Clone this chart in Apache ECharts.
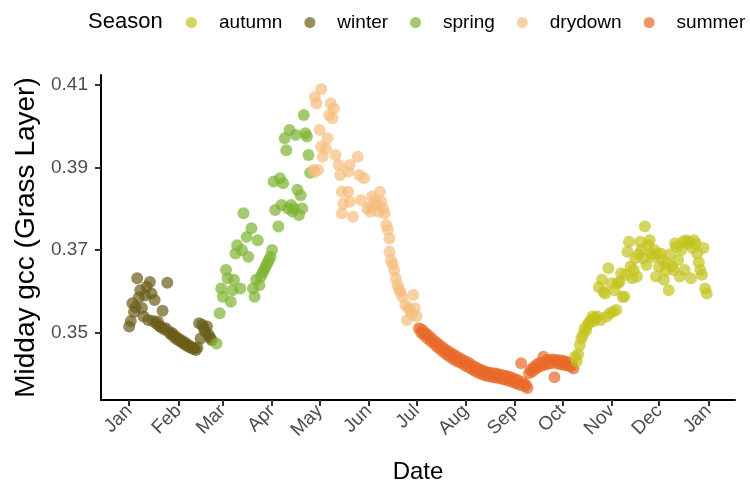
<!DOCTYPE html>
<html><head><meta charset="utf-8">
<script src="https://cdn.jsdelivr.net/npm/echarts@6/dist/echarts.min.js"></script>
<style>html,body{margin:0;padding:0;background:#fff}#c{width:750px;height:485px}</style>
</head><body><div id="c"></div>
<script>
// Tick labels (month starts, day-of-year)
const monthLabels = ['Jan','Feb','Mar','Apr','May','Jun','Jul','Aug','Sep','Oct','Nov','Dec','Jan'];
const monthStarts = [0,31,59,90,120,151,181,212,243,273,304,334,365];
const yTicks = [0.35,0.37,0.39,0.41];
const seasons = ['autumn','winter','spring','drydown','summer'];

// [day of year, midday gcc]
const winter = [
[0,0.3515],[1,0.3528],[2,0.3571],[3,0.3550],[4,0.3562],[5,0.3632],[6,0.3585],[7,0.3603],[8,0.3560],[9,0.3539],
[10,0.3590],[11,0.3611],[12,0.3531],[13,0.3623],[14,0.3595],[15,0.3528],[16,0.3579],[17,0.3522],[18,0.3527],[19,0.3516],
[20,0.3514],[21,0.3553],[22,0.3508],[23,0.3511],[24,0.3621],[25,0.3502],[26,0.3497],[27,0.3499],[28,0.3490],[29,0.3492],
[30,0.3484],[31,0.3486],[32,0.3479],[33,0.3481],[34,0.3474],[35,0.3476],[36,0.3469],[37,0.3471],[38,0.3465],[39,0.3466],
[40,0.3461],[41,0.3462],[42,0.3458],[43,0.3464],[44,0.3523],[45,0.3486],[46,0.3519],[47,0.3510],[48,0.3502],[49,0.3515],
[50,0.3495],[51,0.3488],[52,0.3482]
];
const spring = [
[55,0.3474],[57,0.3547],[58,0.3607],[59,0.3587],[61,0.3652],[62,0.3632],[64,0.3575],[65,0.3603],[66,0.3628],[67,0.3692],
[68,0.3712],[70,0.3607],[71,0.3700],[72,0.3789],[74,0.3732],[75,0.3684],[77,0.3753],[78,0.3607],[79,0.3587],[80,0.3628],
[81,0.3724],[82,0.3615],[83,0.3636],[84,0.3645],[85,0.3652],[86,0.3660],[87,0.3668],[88,0.3676],[89,0.3684],[90,0.3700],
[91,0.3866],[92,0.3797],[94,0.3757],[95,0.3874],[96,0.3809],[97,0.3862],[98,0.3971],[99,0.3942],[100,0.3801],[101,0.3991],
[102,0.3809],[103,0.3793],[104,0.3801],[105,0.3979],[106,0.3846],[107,0.3785],[108,0.3833],[109,0.3801],[110,0.4027],[111,0.3983],
[112,0.3975],[113,0.3930],[114,0.3887]
];
const drydown = [
[116,0.3894],[117,0.3890],[117,0.4071],[118,0.4055],[119,0.3894],[120,0.3991],[121,0.4090],[121,0.3950],[122,0.3926],[124,0.3946],
[125,0.3971],[126,0.4027],[127,0.4055],[128,0.4019],[129,0.4043],[130,0.3930],[132,0.3906],[133,0.3882],[134,0.3841],[134,0.3789],
[135,0.3813],[138,0.3890],[138,0.3841],[139,0.3906],[139,0.3817],[141,0.3781],[144,0.3926],[145,0.3882],[146,0.3821],[148,0.3874],
[150,0.3800],[152,0.3805],[152,0.3793],[153,0.3830],[155,0.3821],[156,0.3810],[157,0.3793],[158,0.3841],[159,0.3817],[160,0.3800],
[161,0.3789],[162,0.3761],[163,0.3749],[164,0.3728],[164,0.3696],[165,0.3676],[166,0.3665],[167,0.3652],[168,0.3632],[169,0.3616],
[170,0.3605],[171,0.3599],[172,0.3587],[174,0.3567],[175,0.3531],[176,0.3560],[177,0.3555],[178,0.3545],[179,0.3591],[180,0.3559],
[181,0.3540],[182,0.3511]
];
const summer = [
[183,0.3510],[184,0.3500],[185,0.3506],[186,0.3494],[187,0.3498],[188,0.3486],[189,0.3492],[190,0.3480],[191,0.3485],[192,0.3473],
[193,0.3478],[194,0.3466],[195,0.3472],[196,0.3460],[197,0.3466],[198,0.3453],[199,0.3460],[200,0.3447],[201,0.3455],[202,0.3442],
[203,0.3450],[204,0.3437],[205,0.3446],[206,0.3432],[207,0.3441],[208,0.3429],[209,0.3436],[210,0.3425],[211,0.3432],[212,0.3420],
[213,0.3429],[214,0.3416],[215,0.3424],[216,0.3412],[217,0.3419],[218,0.3407],[219,0.3415],[220,0.3403],[221,0.3411],[222,0.3400],
[223,0.3408],[224,0.3397],[225,0.3405],[226,0.3395],[227,0.3403],[228,0.3393],[229,0.3402],[230,0.3392],[231,0.3401],[232,0.3391],
[233,0.3399],[234,0.3389],[235,0.3397],[236,0.3387],[237,0.3396],[238,0.3385],[239,0.3394],[240,0.3383],[241,0.3391],[242,0.3380],
[243,0.3388],[244,0.3377],[245,0.3385],[246,0.3374],[247,0.3426],[248,0.3380],[249,0.3370],[250,0.3374],[251,0.3366],[252,0.3402],
[253,0.3410],[254,0.3406],[255,0.3417],[256,0.3412],[257,0.3423],[258,0.3417],[259,0.3427],[260,0.3420],[261,0.3442],[262,0.3423],
[263,0.3433],[264,0.3425],[265,0.3434],[266,0.3426],[267,0.3435],[268,0.3392],[269,0.3434],[270,0.3425],[271,0.3433],[272,0.3424],
[273,0.3432],[274,0.3422],[275,0.3430],[276,0.3421],[277,0.3428],[278,0.3418],[279,0.3422],[280,0.3413]
];
const autumn = [
[281,0.3442],[282,0.3430],[283,0.3448],[284,0.3470],[285,0.3486],[286,0.3495],[287,0.3510],[288,0.3505],[289,0.3519],[290,0.3525],
[291,0.3531],[292,0.3539],[293,0.3528],[294,0.3535],[295,0.3539],[296,0.3610],[297,0.3531],[298,0.3628],[299,0.3599],[300,0.3595],
[301,0.3539],[302,0.3656],[303,0.3547],[304,0.3620],[305,0.3551],[306,0.3603],[307,0.3555],[308,0.3620],[309,0.3623],[310,0.3644],
[311,0.3587],[312,0.3587],[313,0.3640],[314,0.3696],[315,0.3720],[316,0.3660],[317,0.3632],[318,0.3652],[319,0.3680],[320,0.3636],
[321,0.3690],[322,0.3720],[323,0.3700],[324,0.3680],[325,0.3757],[326,0.3664],[327,0.3712],[328,0.3724],[329,0.3690],[330,0.3684],
[331,0.3700],[332,0.3636],[333,0.3690],[334,0.3660],[335,0.3692],[336,0.3676],[337,0.3628],[338,0.3650],[339,0.3668],[340,0.3603],
[341,0.3690],[342,0.3660],[343,0.3652],[344,0.3716],[345,0.3708],[346,0.3676],[347,0.3636],[348,0.3700],[349,0.3720],[350,0.3652],
[351,0.3724],[352,0.3716],[353,0.3720],[354,0.3632],[355,0.3705],[356,0.3724],[357,0.3716],[358,0.3692],[359,0.3670],[360,0.3652],
[361,0.3640],[362,0.3705],[363,0.3607],[364,0.3595]
];

const colors = {autumn:'#C3C31E', winter:'#6B5C1A', spring:'#7DB432', drydown:'#F5BE7D', summer:'#E8692A'};
const dataBySeason = {winter, spring, drydown, summer, autumn};
const drawOrder = ['winter','spring','drydown','summer','autumn'];
const FONT = 'Liberation Sans, Arial, sans-serif';

const chart = echarts.init(document.getElementById('c'), null, {renderer:'canvas'});
chart.setOption({
  animation: false,
  backgroundColor: '#fff',
  textStyle: {fontFamily: FONT},
  title: {text:'Season', left:88, top:11, padding:0,
    textStyle:{fontSize:22, fontWeight:'normal', color:'#000', fontFamily:FONT}},
  legend: {data: seasons, left:186, top:13, padding:0, itemWidth:11, itemHeight:11, itemGap:22,
    icon:'circle', selectedMode:false,
    formatter: name => '{t|' + name + '}',
    textStyle:{fontSize:19, color:'#000', fontFamily:FONT,
      rich:{t:{fontSize:19, color:'#000', fontFamily:FONT, padding:[0,0,0,17]}}}},
  grid: {left:101, right:15, top:75, bottom:85, containLabel:false, outerBoundsMode:'none'},
  xAxis: {
    type:'value', min:-17.8, max:381.8, splitLine:{show:false},
    axisLine:{show:true, onZero:false, lineStyle:{color:'#000', width:2}},
    axisTick:{show:true, customValues:monthStarts, length:6, lineStyle:{color:'#333', width:2}},
    axisLabel:{customValues:monthStarts, rotate:45, fontSize:19, color:'#4D4D4D', margin:8,
      formatter: v => monthLabels[monthStarts.indexOf(v)]},
    name:'Date', nameLocation:'middle', nameGap:60,
    nameTextStyle:{fontSize:24, color:'#000'}
  },
  yAxis: {
    type:'value', min:0.3337, max:0.4124, splitLine:{show:false},
    axisLine:{show:true, onZero:false, lineStyle:{color:'#000', width:2}},
    axisTick:{show:true, customValues:yTicks, length:6, lineStyle:{color:'#333', width:2}},
    axisLabel:{customValues:yTicks, fontSize:19, color:'#4D4D4D', margin:13,
      formatter: v => Number(v).toFixed(2)},
    name:'Midday gcc (Grass Layer)', nameLocation:'middle', nameGap:60,
    nameTextStyle:{fontSize:28, color:'#000'}
  },
  series: drawOrder.map(s => ({
    type:'scatter', name:s, data:dataBySeason[s], symbol:'circle', symbolSize:12,
    itemStyle:{color:colors[s], opacity:0.7},
    emphasis:{disabled:true}
  }))
});
</script></body></html>
